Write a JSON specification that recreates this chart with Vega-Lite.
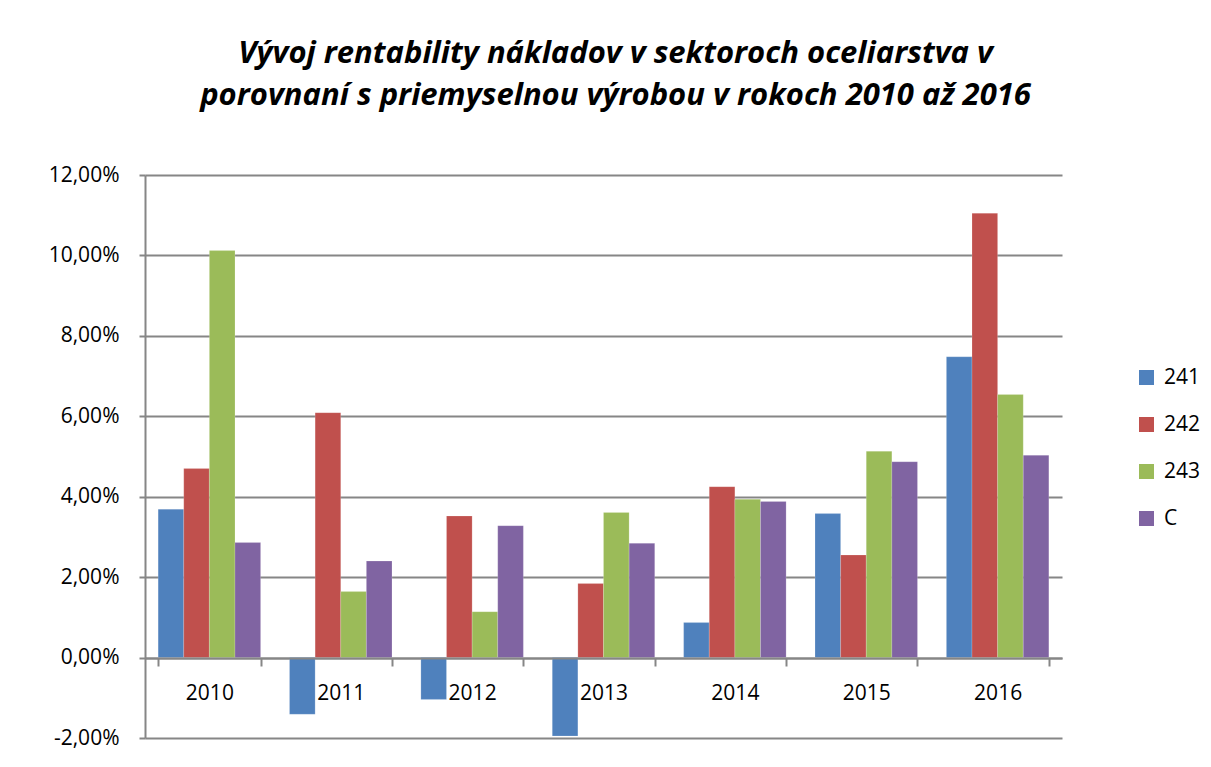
{
  "$schema": "https://vega.github.io/schema/vega-lite/v6.json",
  "autosize": {"type": "none"},
  "width": 917,
  "height": 563,
  "padding": {"left": 145, "top": 175, "right": 149, "bottom": 29},
  "background": "white",
  "title": {
    "text": ["Vývoj rentability nákladov v sektoroch oceliarstva v", "porovnaní s priemyselnou výrobou v rokoch 2010 až 2016"],
    "font": "Open Sans",
    "fontSize": 31,
    "fontWeight": "bold",
    "fontStyle": "italic",
    "color": "#000000",
    "anchor": "middle",
    "frame": "group",
    "offset": 52,
    "dx": 12,
    "lineHeight": 42
  },
  "data": {
    "values": [
      {"year": "2010", "series": "241", "value": 3.69},
      {"year": "2010", "series": "242", "value": 4.70},
      {"year": "2010", "series": "243", "value": 10.12},
      {"year": "2010", "series": "C", "value": 2.86},
      {"year": "2011", "series": "241", "value": -1.41},
      {"year": "2011", "series": "242", "value": 6.09},
      {"year": "2011", "series": "243", "value": 1.64},
      {"year": "2011", "series": "C", "value": 2.40},
      {"year": "2012", "series": "241", "value": -1.04},
      {"year": "2012", "series": "242", "value": 3.52},
      {"year": "2012", "series": "243", "value": 1.14},
      {"year": "2012", "series": "C", "value": 3.28},
      {"year": "2013", "series": "241", "value": -1.95},
      {"year": "2013", "series": "242", "value": 1.84},
      {"year": "2013", "series": "243", "value": 3.61},
      {"year": "2013", "series": "C", "value": 2.84},
      {"year": "2014", "series": "241", "value": 0.87},
      {"year": "2014", "series": "242", "value": 4.25},
      {"year": "2014", "series": "243", "value": 3.94},
      {"year": "2014", "series": "C", "value": 3.88},
      {"year": "2015", "series": "241", "value": 3.58},
      {"year": "2015", "series": "242", "value": 2.55},
      {"year": "2015", "series": "243", "value": 5.13},
      {"year": "2015", "series": "C", "value": 4.87},
      {"year": "2016", "series": "241", "value": 7.48},
      {"year": "2016", "series": "242", "value": 11.05},
      {"year": "2016", "series": "243", "value": 6.54},
      {"year": "2016", "series": "C", "value": 5.03}
    ]
  },
  "mark": {"type": "bar", "stroke": "#ffffff", "strokeOpacity": 0.35, "strokeWidth": 0.5},
  "encoding": {
    "x": {
      "field": "year",
      "type": "nominal",
      "title": null,
      "scale": {"paddingInner": 0.22, "paddingOuter": 0.1},
      "axis": {
        "offset": -80,
        "zindex": 1,
        "labelAngle": 0,
        "labelFont": "Open Sans",
        "labelFontSize": 21,
        "labelColor": "#000000",
        "labelPadding": 16,
        "domainColor": "#868686",
        "domainWidth": 2,
        "tickColor": "#868686",
        "tickWidth": 2,
        "tickSize": 8,
        "tickBand": "extent"
      }
    },
    "xOffset": {"field": "series", "type": "nominal", "scale": {"paddingInner": 0}},
    "y": {
      "field": "value",
      "type": "quantitative",
      "title": null,
      "scale": {"domain": [-2, 12], "nice": false, "zero": false},
      "axis": {
        "values": [-2, 0, 2, 4, 6, 8, 10, 12],
        "labelExpr": "replace(replace(format(datum.value, '.2f'), '.', ','), '\u2212', '-') + '%'",
        "labelFont": "Open Sans",
        "labelFontSize": 21,
        "labelColor": "#000000",
        "labelPadding": 20,
        "domainColor": "#868686",
        "domainWidth": 2,
        "tickColor": "#868686",
        "tickWidth": 2,
        "tickSize": 6,
        "grid": true,
        "gridColor": "#868686",
        "gridWidth": 2
      }
    },
    "color": {
      "field": "series",
      "type": "nominal",
      "title": null,
      "scale": {"domain": ["241", "242", "243", "C"], "range": ["#4F81BD", "#C0504D", "#9BBB59", "#8064A2"]},
      "legend": {
        "orient": "none",
        "legendX": 991,
        "legendY": 192,
        "padding": 0,
        "symbolType": "square",
        "symbolSize": 225,
        "symbolStrokeWidth": 0,
        "labelFont": "Open Sans",
        "labelFontSize": 21,
        "labelColor": "#000000",
        "labelOffset": 7,
        "rowPadding": 25
      }
    }
  },
  "config": {"view": {"stroke": null}}
}
